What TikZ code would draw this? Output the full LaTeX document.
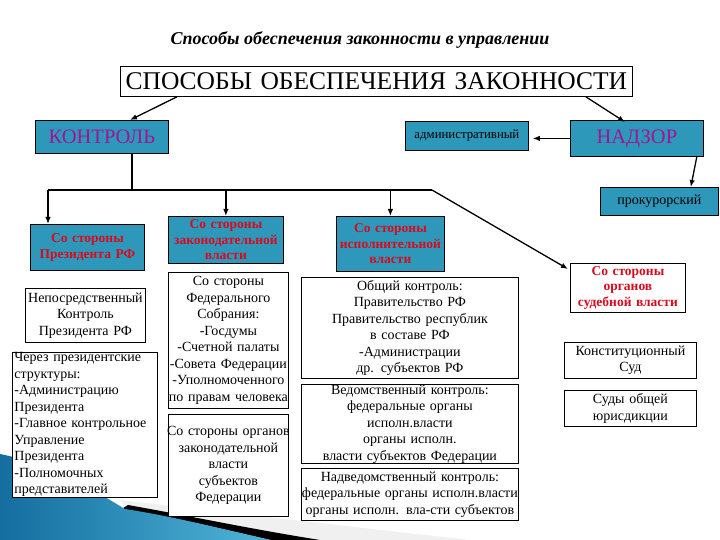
\documentclass[tikz,border=0pt]{standalone}
\usepackage{fontspec}
\setmainfont{Liberation Serif}
\usetikzlibrary{arrows.meta}
\definecolor{tealbox}{RGB}{46,152,186}
\definecolor{magtext}{RGB}{160,20,150}
\definecolor{redtext}{RGB}{215,10,30}
\definecolor{swA}{RGB}{20,110,160}
\definecolor{swB}{RGB}{80,180,215}
\newcommand{\fsz}[2]{\fontsize{#1}{#2}\selectfont}
\begin{document}
\begin{tikzpicture}[x=1pt,y=-1pt,
  bx/.style={draw, line width=0.8pt, inner sep=0pt, align=center, anchor=north west},
  sz/.style 2 args={minimum width=#1pt, minimum height=#2pt, text width=#1pt},
  tb/.style={bx, fill=tealbox},
  wb/.style={bx, fill=white, font=\fsz{14}{16.5}},
  redb/.style={font=\bfseries\fsz{13.5}{15.5}, text=redtext},
  ln/.style={line width=1.3pt},
  arr/.style={line width=1.3pt, -{Latex[length=7pt,width=5.5pt]}}
]
\useasboundingbox (0,0) rectangle (720,540);

% decorative swoosh
\fill[gray!12] (120,500) .. controls (250,515) and (380,530) .. (470,540) -- (150,540) -- cycle;
\fill[black] (128,505) .. controls (190,516) and (245,528) .. (320,540) -- (270,540) .. controls (200,524) and (160,514) .. (120,510) -- cycle;
\shade[left color=swA, right color=swB] (0,454) .. controls (50,464) and (90,488) .. (125,509) .. controls (170,516) and (210,526) .. (271,540) -- (0,540) -- cycle;

% title
\node[font=\bfseries\itshape\fsz{18}{20}] (title) at (360,40) {Способы обеспечения законности в управлении};
\node[bx, fill=white, sz={512}{30}, font=\fsz{25.5}{27}] (top) at (120,66) {СПОСОБЫ ОБЕСПЕЧЕНИЯ ЗАКОННОСТИ};

% main boxes
\node[tb, sz={133}{33}, font=\fsz{20.5}{22}, text=magtext] (kont) at (35,120) {КОНТРОЛЬ};
\node[tb, sz={123}{29}, font=\fsz{12.8}{14}] (adm) at (405,121) {административный};
\node[tb, sz={133}{36}, font=\fsz{20.5}{22}, text=magtext] (nad) at (570,120) {НАДЗОР};
\node[tb, sz={118}{28}, font=\fsz{14}{16}] (prok) at (600,187) {прокурорский};

% second level
\node[tb, sz={114}{46}, redb] (pres) at (30,224) {Со стороны\\Президента РФ};
\node[tb, sz={115}{47}, redb] (leg) at (168,216) {Со стороны\\законодательной\\власти};
\node[tb, sz={108}{55}, redb] (exe) at (336,216) {Со стороны\\исполнительной\\власти};
\node[bx, fill=white, sz={115}{49}, redb] (sud) at (570,263) {Со стороны\\органов\\судебной власти};

% white boxes
\node[wb, sz={120}{54}] (neposr) at (25,288) {Непосредственный\\Контроль\\Президента РФ};
\node[wb, minimum width=145pt, minimum height=145pt, text width=141pt, inner xsep=2pt, align=left] (cherez) at (12,352) {Через президентские\\структуры:\\-Администрацию\\Президента\\-Главное контрольное\\Управление\\Президента\\-Полномочных\\ представителей};
\node[wb, sz={120}{136}] (fed) at (168,272) {Со стороны\\Федерального\\Собрания:\\-Госдумы\\-Счетной палаты\\-Совета Федерации\\-Уполномоченного\\по правам человека};
\node[wb, sz={120}{102}] (subj) at (168,414) {\makebox[\linewidth]{Со стороны органов}\\законодательной\\власти\\субъектов\\Федерации};
\node[wb, sz={217}{101}] (obsh) at (301,277) {Общий контроль:\\Правительство РФ\\Правительство республик\\в составе РФ\\-Администрации\\др. субъектов РФ};
\node[wb, sz={217}{79}] (ved) at (301,384) {Ведомственный контроль:\\федеральные органы\\исполн.власти\\органы исполн.\\власти субъектов Федерации};
\node[wb, sz={217}{52}] (nadved) at (301,468) {Надведомственный контроль:\\\makebox[\linewidth]{федеральные органы исполн.власти}\\органы исполн. вла-сти субъектов};
\node[wb, sz={132}{36}] (konst) at (564,342) {Конституционный\\Суд};
\node[wb, sz={132}{36}] (sudy) at (564,390) {Суды общей\\юрисдикции};

% connectors
\draw[arr] ([xshift=57pt]top.south west) -- ([xshift=95pt]kont.north west);
\draw[arr] ([xshift=-47pt]top.south east) -- ([xshift=55pt,yshift=-2pt]nad.north west);
\draw[arr, shorten >=4pt] (nad.west) -- (nad.west -| adm.east);
\draw[arr] ([xshift=-7pt]nad.south east) -- ([xshift=-28pt]prok.north east);

\coordinate (hl) at (48,190);
\coordinate (hr) at (432,190);
\draw[ln] ([xshift=97pt]kont.south west) |- (hl);
\draw[ln] (hl) -- (hr);
\draw[arr] (hr) -- ([xshift=-2pt,yshift=-6pt]sud.north west);
\draw[arr] (hl) -- (hl |- pres.north);
\draw[arr] (hl -| leg.north) -- (leg.north);
\draw[arr] (hl -| exe.north) -- (exe.north);
\end{tikzpicture}
\end{document}
